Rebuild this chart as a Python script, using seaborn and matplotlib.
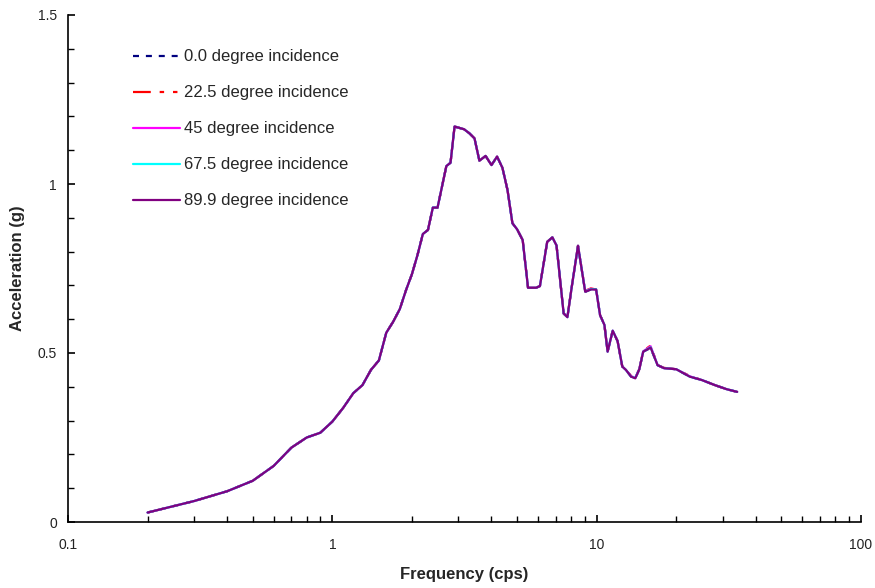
import numpy as np
import pandas as pd
import matplotlib
matplotlib.use("Agg")
import matplotlib.pyplot as plt
import seaborn as sns
from matplotlib.ticker import LogLocator, FixedLocator, MultipleLocator, NullFormatter, FuncFormatter

freq = [0.2, 0.3, 0.4, 0.5, 0.6, 0.7, 0.8, 0.9, 1.0, 1.1, 1.2, 1.3, 1.4, 1.5, 1.6, 1.7, 1.8, 1.9,
        2.0, 2.1, 2.2, 2.3, 2.4, 2.5, 2.7, 2.8, 2.9, 3.15, 3.3, 3.45, 3.6, 3.8, 4.0, 4.2, 4.4, 4.6,
        4.8, 5.0, 5.25, 5.5, 5.9, 6.1, 6.5, 6.8, 7.05, 7.5, 7.75, 8.05, 8.5, 9.05, 9.5, 9.95, 10.3,
        10.7, 11.0, 11.5, 12.0, 12.5, 12.9, 13.5, 14.0, 14.5, 15.0, 16.0, 17.0, 18.0, 20.0, 22.5,
        25.0, 28.0, 31.0, 34.0]

acc_0 = [0.028, 0.062, 0.091, 0.122, 0.166, 0.220, 0.250, 0.264, 0.297, 0.338, 0.381, 0.405, 0.450,
         0.478, 0.560, 0.593, 0.630, 0.686, 0.733, 0.790, 0.852, 0.864, 0.930, 0.930, 1.053, 1.063,
         1.170, 1.162, 1.150, 1.135, 1.069, 1.083, 1.056, 1.081, 1.048, 0.982, 0.884, 0.866, 0.834,
         0.693, 0.693, 0.698, 0.829, 0.842, 0.818, 0.617, 0.606, 0.696, 0.817, 0.681, 0.688, 0.690,
         0.612, 0.583, 0.504, 0.566, 0.535, 0.460, 0.450, 0.430, 0.425, 0.452, 0.504, 0.515, 0.464,
         0.455, 0.452, 0.430, 0.420, 0.405, 0.393, 0.385]
acc_22 = [0.028, 0.062, 0.091, 0.122, 0.166, 0.220, 0.250, 0.264, 0.297, 0.338, 0.381, 0.405, 0.450,
          0.478, 0.560, 0.593, 0.630, 0.686, 0.733, 0.790, 0.852, 0.864, 0.930, 0.930, 1.053, 1.063,
          1.170, 1.162, 1.150, 1.135, 1.069, 1.083, 1.056, 1.081, 1.048, 0.982, 0.884, 0.866, 0.834,
          0.693, 0.693, 0.698, 0.829, 0.842, 0.818, 0.617, 0.606, 0.696, 0.817, 0.684, 0.691, 0.688,
          0.612, 0.583, 0.504, 0.566, 0.535, 0.460, 0.450, 0.432, 0.428, 0.452, 0.506, 0.522, 0.464,
          0.456, 0.452, 0.432, 0.420, 0.405, 0.393, 0.385]
acc_45 = [0.028, 0.062, 0.091, 0.122, 0.166, 0.220, 0.250, 0.264, 0.297, 0.338, 0.381, 0.405, 0.450,
          0.478, 0.560, 0.593, 0.630, 0.686, 0.733, 0.790, 0.852, 0.864, 0.930, 0.930, 1.053, 1.063,
          1.170, 1.162, 1.150, 1.135, 1.069, 1.083, 1.056, 1.081, 1.048, 0.982, 0.884, 0.866, 0.834,
          0.693, 0.693, 0.698, 0.829, 0.842, 0.818, 0.617, 0.606, 0.696, 0.817, 0.683, 0.690, 0.688,
          0.612, 0.583, 0.504, 0.566, 0.535, 0.460, 0.450, 0.431, 0.427, 0.452, 0.505, 0.520, 0.464,
          0.455, 0.452, 0.431, 0.420, 0.405, 0.393, 0.385]
acc_67 = [0.028, 0.062, 0.091, 0.122, 0.166, 0.220, 0.250, 0.264, 0.297, 0.338, 0.381, 0.405, 0.450,
          0.478, 0.560, 0.593, 0.630, 0.686, 0.733, 0.790, 0.852, 0.864, 0.930, 0.930, 1.053, 1.063,
          1.170, 1.162, 1.150, 1.135, 1.069, 1.083, 1.056, 1.081, 1.048, 0.982, 0.884, 0.866, 0.834,
          0.693, 0.693, 0.698, 0.829, 0.842, 0.818, 0.617, 0.606, 0.696, 0.817, 0.682, 0.689, 0.689,
          0.612, 0.583, 0.504, 0.566, 0.535, 0.460, 0.450, 0.430, 0.426, 0.452, 0.504, 0.517, 0.464,
          0.455, 0.452, 0.430, 0.420, 0.405, 0.393, 0.385]
acc_89 = [0.028, 0.062, 0.091, 0.122, 0.166, 0.220, 0.250, 0.264, 0.297, 0.338, 0.381, 0.405, 0.450,
          0.478, 0.560, 0.593, 0.630, 0.686, 0.733, 0.790, 0.852, 0.864, 0.930, 0.930, 1.053, 1.063,
          1.170, 1.162, 1.150, 1.135, 1.069, 1.083, 1.056, 1.081, 1.048, 0.982, 0.884, 0.866, 0.834,
          0.693, 0.693, 0.698, 0.829, 0.842, 0.818, 0.617, 0.606, 0.696, 0.817, 0.681, 0.688, 0.688,
          0.612, 0.583, 0.504, 0.566, 0.535, 0.460, 0.450, 0.430, 0.425, 0.452, 0.504, 0.516, 0.464,
          0.455, 0.452, 0.430, 0.420, 0.405, 0.393, 0.385]

labels = ["0.0 degree incidence", "22.5 degree incidence", "45 degree incidence",
          "67.5 degree incidence", "89.9 degree incidence"]
series = [acc_0, acc_22, acc_45, acc_67, acc_89]
colors = ["#000080", "#FF0000", "#FF00FF", "#00FFFF", "#800080"]
styles = [(0, (2.7, 3.1)), (0, (8, 4, 2, 4, 2, 4)), "-", "-", "-"]

sns.set_theme(style="white")
plt.rcParams["font.family"] = ["Liberation Sans", "DejaVu Sans"]

fig = plt.figure(figsize=(8.75, 5.88), dpi=100)
ax = fig.add_axes([68 / 875, 66 / 588, (861 - 68) / 875, (522 - 15) / 588])

for lab, vals, col, ls in zip(labels, series, colors, styles):
    df = pd.DataFrame({"f": freq, "a": vals})
    sns.lineplot(data=df, x="f", y="a", ax=ax, color=col, linestyle=ls, linewidth=1.6,
                 label=lab, sort=False)

ax.set_xscale("log")
ax.set_xlim(0.1, 100)
ax.set_ylim(0, 1.5)

ax.xaxis.set_major_locator(FixedLocator([0.1, 1, 10, 100]))
ax.xaxis.set_major_formatter(FuncFormatter(lambda v, p: {0.1: "0.1", 1: "1", 10: "10", 100: "100"}.get(round(v, 3), "")))
ax.xaxis.set_minor_locator(LogLocator(base=10, subs=np.arange(2, 10)))
ax.xaxis.set_minor_formatter(NullFormatter())
ax.yaxis.set_major_locator(FixedLocator([0, 0.5, 1.0, 1.5]))
ax.yaxis.set_major_formatter(FuncFormatter(lambda v, p: {0.0: "0", 0.5: "0.5", 1.0: "1", 1.5: "1.5"}.get(round(v, 2), "")))
ax.yaxis.set_minor_locator(MultipleLocator(0.1))

for s in ["top", "right"]:
    ax.spines[s].set_visible(False)
for s in ["left", "bottom"]:
    ax.spines[s].set_color("black")
    ax.spines[s].set_linewidth(1.2)

ax.tick_params(axis="both", which="both", bottom=True, left=True, top=False, right=False)
ax.tick_params(axis="both", which="major", direction="in", length=5, width=1.2, color="black",
               labelsize=10, labelcolor="#222222")
ax.tick_params(axis="both", which="minor", direction="in", length=4, width=1, color="black")
ax.tick_params(axis="x", which="major", pad=11.5)
ax.tick_params(axis="y", which="major", pad=8)

ax.set_xlabel("Frequency (cps)", fontsize=12, fontweight="bold")
ax.set_ylabel("Acceleration (g)", fontsize=12, fontweight="bold")
ax.xaxis.set_label_coords(0.5, -0.088)
ax.yaxis.set_label_coords(-0.054, 0.5)
ax.grid(False)

leg = ax.legend(loc="upper left", bbox_to_anchor=(0.082, 0.932), frameon=False, fontsize=12,
                handlelength=2.8, handletextpad=0.25, labelspacing=1.26, borderaxespad=0,
                borderpad=0)

fig.savefig("out.png", dpi=100)
